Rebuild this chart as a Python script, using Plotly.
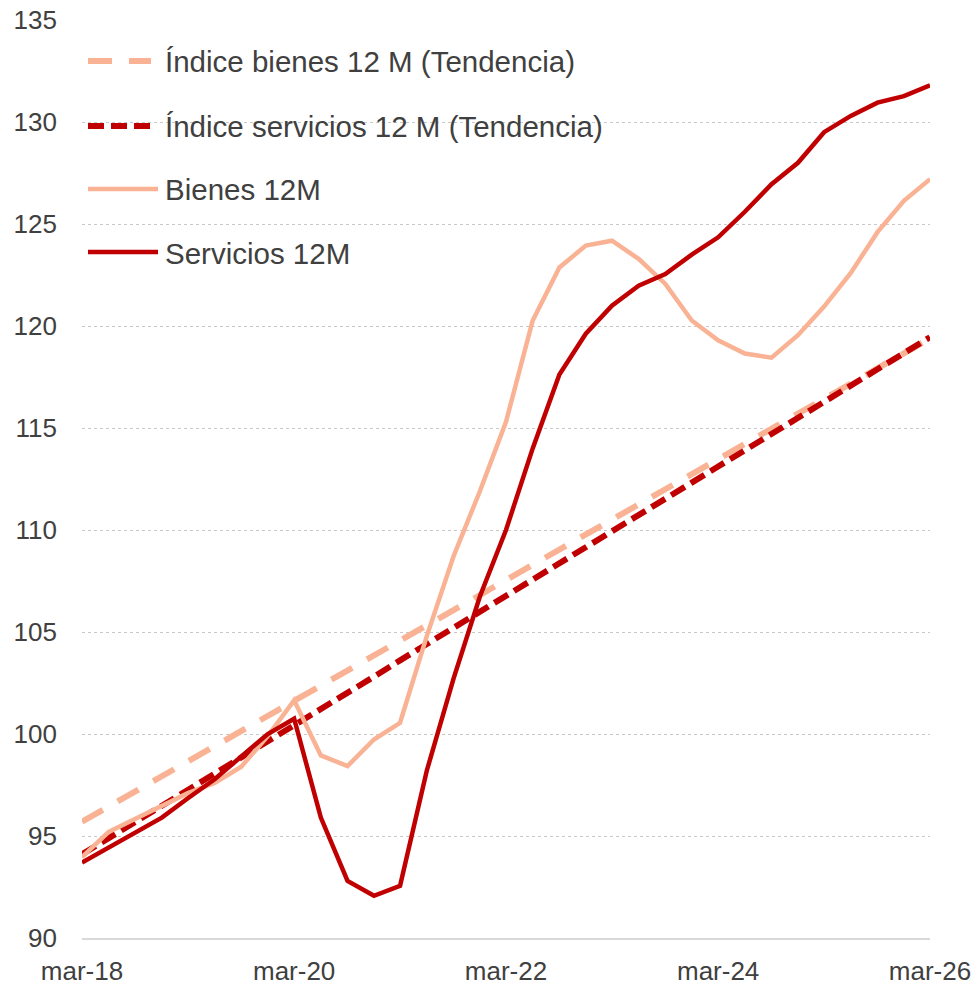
import plotly.graph_objects as go

# ---------------- data ----------------
fechas = [
    "2018-03-01", "2018-06-01", "2018-09-01", "2018-12-01",
    "2019-03-01", "2019-06-01", "2019-09-01", "2019-12-01",
    "2020-03-01", "2020-06-01", "2020-09-01", "2020-12-01",
    "2021-03-01", "2021-06-01", "2021-09-01", "2021-12-01",
    "2022-03-01", "2022-06-01", "2022-09-01", "2022-12-01",
    "2023-03-01", "2023-06-01", "2023-09-01", "2023-12-01",
    "2024-03-01", "2024-06-01", "2024-09-01", "2024-12-01",
    "2025-03-01", "2025-06-01", "2025-09-01", "2025-12-01",
    "2026-03-01",
]

bienes_12m = [93.96, 95.2, 95.85, 96.47, 97.1, 97.6, 98.4, 99.9,
              101.65, 98.95, 98.43, 99.73, 100.55, 104.8, 108.7, 111.9,
              115.3, 120.27, 122.87, 123.94, 124.18, 123.29, 122.06, 120.27,
              119.3, 118.65, 118.45, 119.55, 120.95, 122.6, 124.6, 126.14,
              127.2]

servicios_12m = [93.7, 94.45, 95.2, 95.9, 96.85, 97.78, 98.9, 100.0,
                 100.75, 95.9, 92.8, 92.07, 92.56, 98.2, 102.7, 106.74,
                 110.0, 114.0, 117.62, 119.62, 121.0, 121.98, 122.55, 123.5,
                 124.35, 125.6, 126.95, 128.0, 129.5, 130.3, 130.95, 131.27,
                 131.8]

bienes_tend = [95.70, 96.44, 97.18, 97.92, 98.66, 99.40, 100.14, 100.88,
               101.63, 102.37, 103.11, 103.85, 104.59, 105.33, 106.07, 106.81,
               107.55, 108.29, 109.03, 109.77, 110.51, 111.25, 111.99, 112.73,
               113.48, 114.22, 114.96, 115.70, 116.44, 117.18, 117.92, 118.66,
               119.40]

servicios_tend = [94.10, 94.89, 95.68, 96.48, 97.27, 98.06, 98.85, 99.65,
                  100.44, 101.23, 102.02, 102.81, 103.61, 104.40, 105.19, 105.98,
                  106.78, 107.57, 108.36, 109.15, 109.94, 110.74, 111.53, 112.32,
                  113.11, 113.91, 114.70, 115.49, 116.28, 117.07, 117.87, 118.66,
                  119.45]

tick_fechas = ["2018-03-01", "2020-03-01", "2022-03-01", "2024-03-01", "2026-03-01"]
tick_labels = ["mar-18", "mar-20", "mar-22", "mar-24", "mar-26"]

nombres = ["Índice bienes 12 M (Tendencia)",
           "Índice servicios 12 M (Tendencia)",
           "Bienes 12M",
           "Servicios 12M"]

# ---------------- styles ----------------
SALMON = "#F9B394"
DARKRED = "#C00000"
TEXT = "#404040"
FONT = "Liberation Sans, Arial, sans-serif"

W, H = 976, 987
ML, MR, MT, MB = 82, 46, 20, 49
PW = W - ML - MR
PH = H - MT - MB

styles = [
    dict(color=SALMON, width=6, dash="24px,17px"),
    dict(color=DARKRED, width=6, dash="16px,7px"),
    dict(color=SALMON, width=4.5, dash="solid"),
    dict(color=DARKRED, width=4.5, dash="solid"),
]
series = [bienes_tend, servicios_tend, bienes_12m, servicios_12m]

fig = go.Figure()
for name, ys, st in zip(nombres, series, styles):
    fig.add_trace(go.Scatter(x=fechas, y=ys, mode="lines", name=name,
                             line=st, showlegend=False))

# custom legend (lines + text)
def px_x(px):
    return (px - ML) / PW

def px_y(py):
    return 1 - (py - MT) / PH

legend_y = [61, 126, 189, 252]
legend_x_end = [151, 151, 158, 158]
for name, st, ly, xe in zip(nombres, styles, legend_y, legend_x_end):
    fig.add_shape(type="line", xref="paper", yref="paper",
                  x0=px_x(88), x1=px_x(xe), y0=px_y(ly), y1=px_y(ly),
                  line=dict(color=st["color"], width=st["width"], dash=st["dash"]))
    fig.add_annotation(xref="paper", yref="paper", x=px_x(163), y=px_y(ly + 1),
                       text=name, showarrow=False, xanchor="left", yanchor="middle",
                       font=dict(family=FONT, size=29.5, color=TEXT))

fig.update_layout(
    width=W, height=H,
    margin=dict(l=ML, r=MR, t=MT, b=MB, autoexpand=False),
    paper_bgcolor="white", plot_bgcolor="white",
    font=dict(family=FONT, size=26, color=TEXT),
    xaxis=dict(
        type="date",
        range=[fechas[0], fechas[-1]],
        tickvals=tick_fechas, ticktext=tick_labels,
        showgrid=False, showline=True, linecolor="#D9D9D9", linewidth=2,
        ticks="", ticklabelstandoff=9, automargin=False,
        tickfont=dict(family=FONT, size=26, color=TEXT),
        zeroline=False,
    ),
    yaxis=dict(
        range=[90, 135], dtick=5, tick0=90,
        showgrid=True, gridcolor="#C8C8C8", griddash="dot", gridwidth=1,
        zeroline=False, showline=False, ticks="", automargin=False,
        ticklabelstandoff=24,
        tickfont=dict(family=FONT, size=26, color=TEXT),
    ),
)

fig.write_html("out.html",
               config={"displayModeBar": False, "staticPlot": True},
               post_script="document.body.style.margin='0';document.body.style.overflow='hidden';")
